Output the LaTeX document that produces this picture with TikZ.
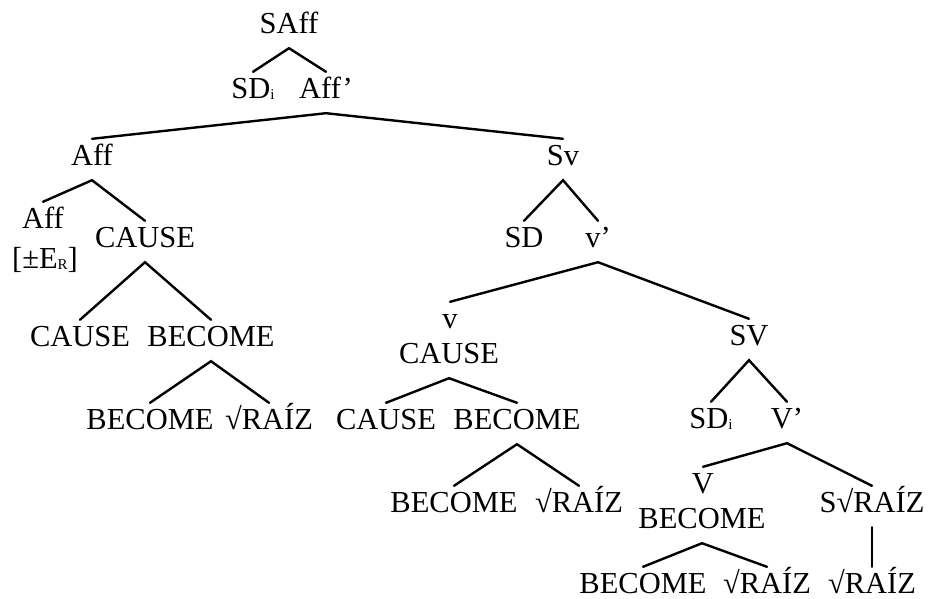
\documentclass[tikz,border=0pt]{standalone}
\usepackage{fontspec}
\setmainfont{Liberation Serif}
\newcommand{\sub}[1]{\raisebox{-1.5pt}{\fontsize{15}{15}\selectfont #1}}
\begin{document}
\begin{tikzpicture}[x=1pt,y=-1pt,
  lbl/.style={anchor=base,inner xsep=0pt,inner ysep=5pt,text height=21pt,text depth=10pt,
    font=\fontsize{30.5}{36}\selectfont},
  branch/.style={line width=2.4pt,line cap=round}]
\useasboundingbox (0,0) rectangle (929,598);
% labels (placed by horizontal centre and baseline)
\node[lbl] (saff) at (289,33) {SAff};
\node[lbl] (sdi) at (253,98) {SD\sub{i}};
\node[lbl] (affp) at (326,98) {Aff’};
\node[lbl] (aff) at (92,165) {Aff};
\node[lbl] (sv) at (563,165) {Sv};
\node[lbl] (affl) at (43,228) {Aff};
\node[lbl] (affe) at (45,268) {[±E\sub{R}]};
\node[lbl] (causeA) at (145,247) {CAUSE};
\node[lbl] (causeB) at (80,346) {CAUSE};
\node[lbl] (becomeA) at (211,346) {BECOME};
\node[lbl] (becomeB) at (150,429) {BECOME};
\node[lbl] (raizA) at (269,429) {√RAÍZ};
\node[lbl] (sd) at (524,247) {SD};
\node[lbl] (vbar) at (598,247) {v’};
\node[lbl] (vhead) at (450,328) {v};
\node[lbl] (causeC) at (449,363) {CAUSE};
\node[lbl] (causeD) at (386,429) {CAUSE};
\node[lbl] (becomeC) at (517,429) {BECOME};
\node[lbl] (becomeD) at (454,512) {BECOME};
\node[lbl] (raizB) at (579,512) {√RAÍZ};
\node[lbl] (sV) at (749,345) {SV};
\node[lbl] (sdiB) at (711,428) {SD\sub{i}};
\node[lbl] (Vbar) at (787,428) {V’};
\node[lbl] (Vhead) at (703,493) {V};
\node[lbl] (becomeE) at (702,528) {BECOME};
\node[lbl] (sraiz) at (872,512) {S√RAÍZ};
\node[lbl] (becomeF) at (643,593) {BECOME};
\node[lbl] (raizC) at (767,593) {√RAÍZ};
\node[lbl] (raizD) at (872,593) {√RAÍZ};
% branches
\draw[branch] (sdi.north) -- (saff.south) -- (affp.north);
\draw[branch] (aff.north) -- (affp.south) -- (sv.north);
\draw[branch] (affl.north) -- (aff.south) -- (causeA.north);
\draw[branch] (causeB.north) -- (causeA.south) -- (becomeA.north);
\draw[branch] (becomeB.north) -- (becomeA.south) -- (raizA.north);
\draw[branch] (sd.north) -- (sv.south) -- (vbar.north);
\draw[branch] (vhead.north) -- (vbar.south) -- (sV.north);
\draw[branch] (causeD.north) -- (causeC.south) -- (becomeC.north);
\draw[branch] (becomeD.north) -- (becomeC.south) -- (raizB.north);
\draw[branch] (sdiB.north) -- (sV.south) -- (Vbar.north);
\draw[branch] (Vhead.north) -- (Vbar.south) -- (sraiz.north);
\draw[branch] (becomeF.north) -- (becomeE.south) -- (raizC.north);
\draw[branch] (sraiz.south) -- (raizD.north);
\end{tikzpicture}
\end{document}
